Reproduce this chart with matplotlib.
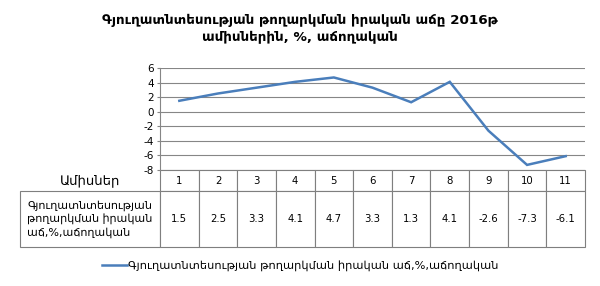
import matplotlib
matplotlib.use("Agg")
import matplotlib.pyplot as plt

title = "Գյուղատնտեսության թողարկման իրական աճը 2016թ\nամիսներին, %, աճողական"
series_name = "Գյուղատնտեսության թողարկման իրական աճ,%,աճողական"
row_label = "Գյուղատնտեսության\nթողարկման իրական\nաճ,%,աճողական"
header_label = "Ամիսներ"
months = ["1", "2", "3", "4", "5", "6", "7", "8", "9", "10", "11"]
growth = [1.5, 2.5, 3.3, 4.1, 4.7, 3.3, 1.3, 4.1, -2.6, -7.3, -6.1]
yticks = [-8, -6, -4, -2, 0, 2, 4, 6]

plt.rcParams['font.family'] = ['DejaVu Sans']

fig = plt.figure(figsize=(6, 2.86), dpi=100)
ax = fig.add_axes([160 / 600, 1 - 170 / 286, 425 / 600, 102 / 286])

x = list(range(len(months)))
ax.plot(x, growth, color='#4a7ebb', lw=1.8, solid_joinstyle='miter')

ax.set_xlim(-0.5, len(months) - 0.5)
ax.set_ylim(-8, 6)
ax.set_yticks(yticks)
ax.set_yticklabels([str(v) for v in yticks], fontsize=7.5)
ax.set_xticks([])
ax.tick_params(axis='y', length=2.5, width=0.8, color='#868686', pad=2)
ax.grid(axis='y', color='#868686', lw=0.8)
ax.set_axisbelow(True)
for side in ['top', 'right', 'bottom']:
    ax.spines[side].set_visible(False)
ax.spines['left'].set_color('#868686')
ax.spines['left'].set_linewidth(0.8)

# data table under the plot
cells = [[header_label] + months,
         [row_label] + [f"{v:.1f}" for v in growth]]
widths = [140] + [425 / len(months)] * len(months)
tab = ax.table(cellText=cells, colWidths=widths, cellLoc='center',
               bbox=[-140 / 425, -77 / 102, 565 / 425, 77 / 102])
tab.auto_set_font_size(False)
tab.set_fontsize(7.3)
for (r, c), cell in tab.get_celld().items():
    cell.set_edgecolor('#7f7f7f')
    cell.set_linewidth(0.8)
    cell.set_height(21 if r == 0 else 56)
    cell.set_width(widths[c])
tab[0, 0].visible_edges = 'open'
tab[0, 0].get_text().set_fontsize(9.5)
tab[1, 0].get_text().set_fontsize(8)
tab[1, 0].get_text().set_multialignment('left')
tab[1, 0].get_text().set_linespacing(1.3)

fig.text(0.5, 1 - 29 / 286, title, ha='center', va='center',
         fontsize=9.7, fontweight='bold', linespacing=1.5)

fig.legend(handles=ax.get_lines(), labels=[series_name], loc='center',
           bbox_to_anchor=(0.5, 1 - 266 / 286), frameon=False, fontsize=8.2,
           handlelength=2.2, handletextpad=0.1)

fig.savefig("out.png", dpi=100)
